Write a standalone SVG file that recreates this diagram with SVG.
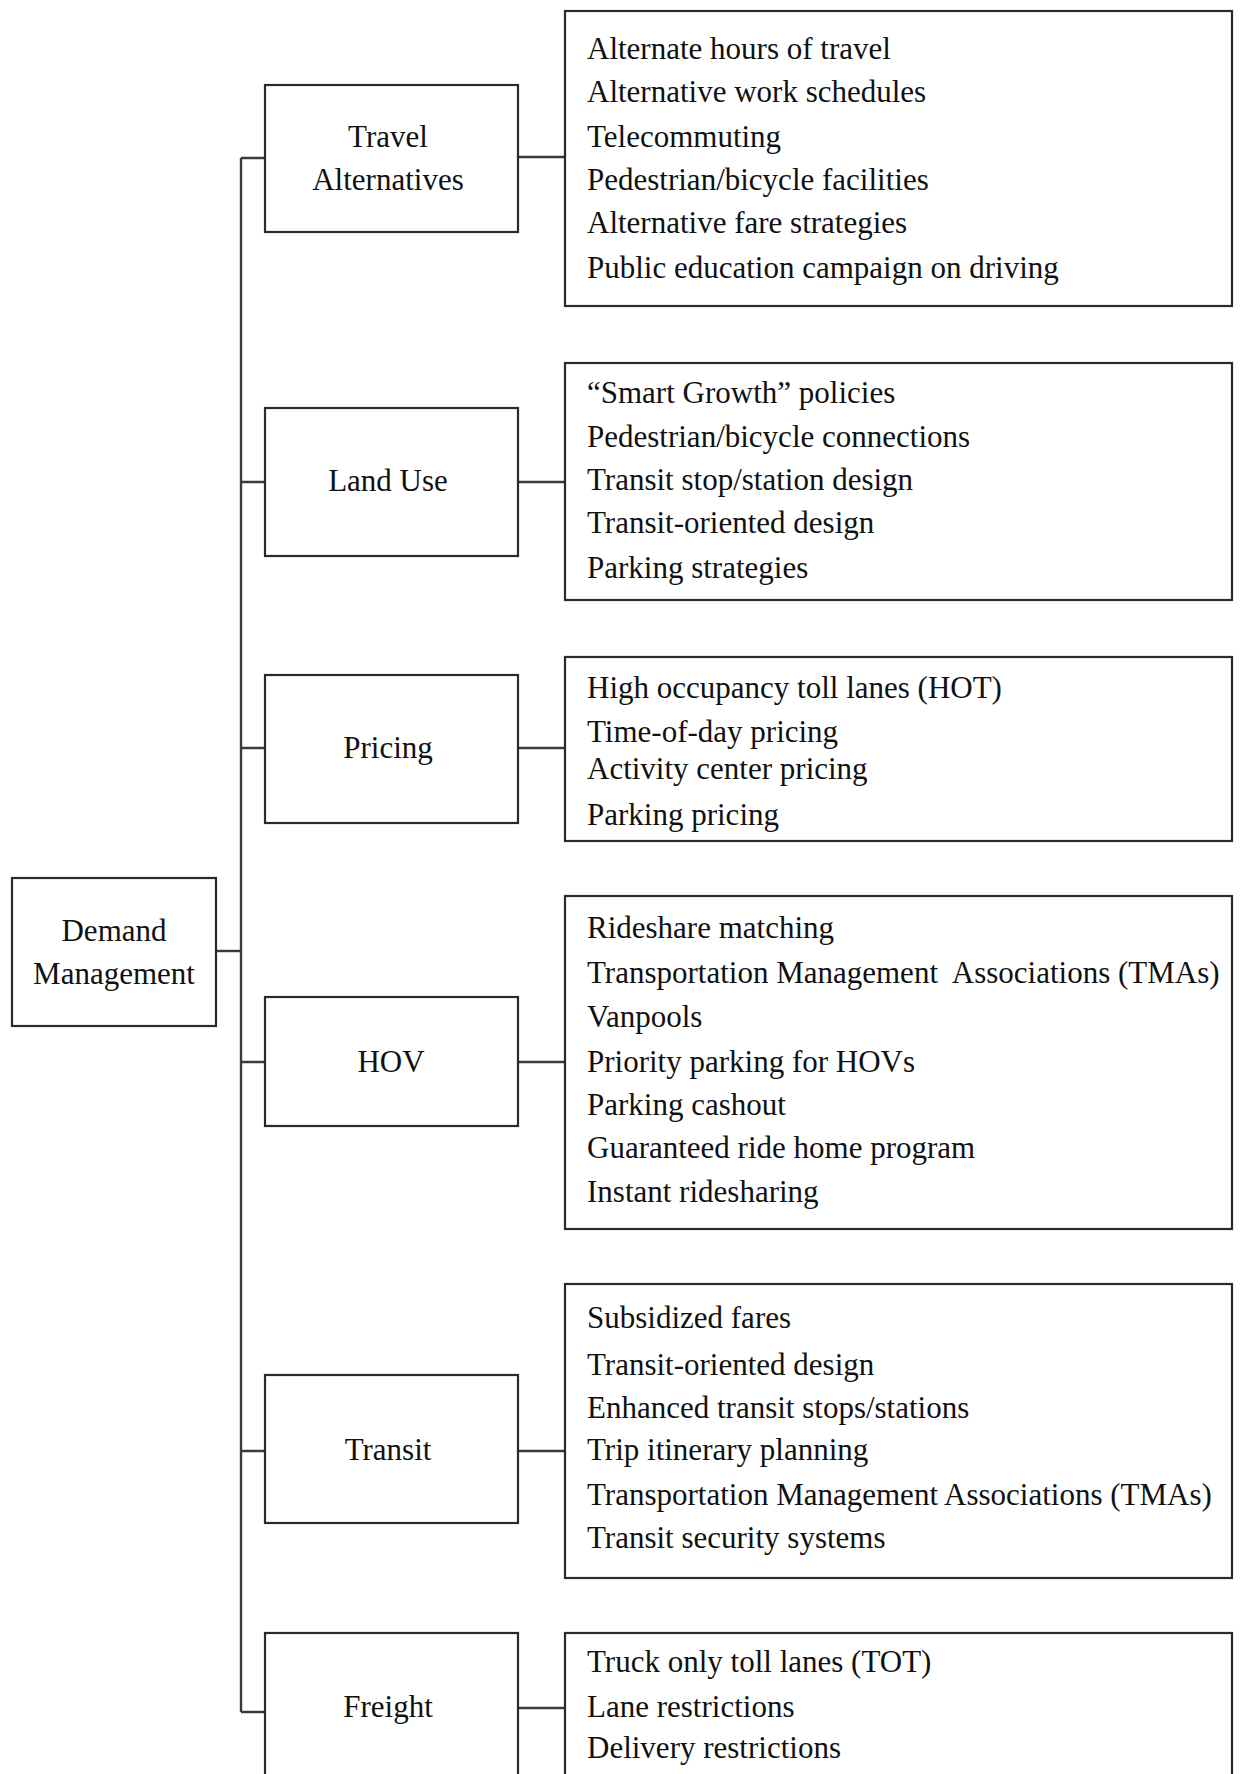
<svg xmlns="http://www.w3.org/2000/svg" width="1243" height="1774" viewBox="0 0 1243 1774">
<style>
.box{fill:#fff;stroke:#2a2a2a;stroke-width:2.2}
.conn{fill:none;stroke:#3a3a3a;stroke-width:2.4}
text{font-family:"Liberation Serif","Times New Roman",serif;font-size:31px;fill:#111}
.c{text-anchor:middle}
</style>
<rect width="1243" height="1774" fill="#fff"/>
<g id="connectors">
<path class="conn" d="M241 158V1712"/>
<path class="conn" d="M216 951H241"/>
<path class="conn" d="M241 158H265M241 482H265M241 748H265M241 1062H265M241 1451H265M241 1712H265"/>
<path class="conn" d="M518 157H565M518 482H565M518 748H565M518 1062H565M518 1451H565M518 1708H565"/>
</g>
<g id="demand-management">
<rect class="box" x="12" y="878" width="204" height="148"/>
<text class="c" x="114" y="941">Demand</text>
<text class="c" x="114" y="984">Management</text>
</g>
<g id="travel-alternatives">
<rect class="box" x="265" y="85" width="253" height="147"/>
<text class="c" x="388" y="147">Travel</text>
<text class="c" x="388" y="190">Alternatives</text>
</g>
<g id="land-use">
<rect class="box" x="265" y="408" width="253" height="148"/>
<text class="c" x="388" y="491">Land Use</text>
</g>
<g id="pricing">
<rect class="box" x="265" y="675" width="253" height="148"/>
<text class="c" x="388" y="758">Pricing</text>
</g>
<g id="hov">
<rect class="box" x="265" y="997" width="253" height="129"/>
<text class="c" x="391" y="1072">HOV</text>
</g>
<g id="transit">
<rect class="box" x="265" y="1375" width="253" height="148"/>
<text class="c" x="388" y="1460">Transit</text>
</g>
<g id="freight">
<rect class="box" x="265" y="1633" width="253" height="160"/>
<text class="c" x="388" y="1717">Freight</text>
</g>
<g id="travel-alternatives-details">
<rect class="box" x="565" y="11" width="667" height="295"/>
<text x="587" y="59">Alternate hours of travel</text>
<text x="587" y="102">Alternative work schedules</text>
<text x="587" y="147">Telecommuting</text>
<text x="587" y="190">Pedestrian/bicycle facilities</text>
<text x="587" y="233">Alternative fare strategies</text>
<text x="587" y="278">Public education campaign on driving</text>
</g>
<g id="land-use-details">
<rect class="box" x="565" y="363" width="667" height="237"/>
<text x="587" y="403">“Smart Growth” policies</text>
<text x="587" y="447">Pedestrian/bicycle connections</text>
<text x="587" y="490">Transit stop/station design</text>
<text x="587" y="533">Transit-oriented design</text>
<text x="587" y="578">Parking strategies</text>
</g>
<g id="pricing-details">
<rect class="box" x="565" y="657" width="667" height="184"/>
<text x="587" y="698">High occupancy toll lanes (HOT)</text>
<text x="587" y="742">Time-of-day pricing</text>
<text x="587" y="779">Activity center pricing</text>
<text x="587" y="825">Parking pricing</text>
</g>
<g id="hov-details">
<rect class="box" x="565" y="896" width="667" height="333"/>
<text x="587" y="938">Rideshare matching</text>
<text x="587" y="983" xml:space="preserve">Transportation Management  Associations (TMAs)</text>
<text x="587" y="1027">Vanpools</text>
<text x="587" y="1072">Priority parking for HOVs</text>
<text x="587" y="1115">Parking cashout</text>
<text x="587" y="1158">Guaranteed ride home program</text>
<text x="587" y="1202">Instant ridesharing</text>
</g>
<g id="transit-details">
<rect class="box" x="565" y="1284" width="667" height="294"/>
<text x="587" y="1328">Subsidized fares</text>
<text x="587" y="1375">Transit-oriented design</text>
<text x="587" y="1418">Enhanced transit stops/stations</text>
<text x="587" y="1460">Trip itinerary planning</text>
<text x="587" y="1505">Transportation Management Associations (TMAs)</text>
<text x="587" y="1548">Transit security systems</text>
</g>
<g id="freight-details">
<rect class="box" x="565" y="1633" width="667" height="160"/>
<text x="587" y="1672">Truck only toll lanes (TOT)</text>
<text x="587" y="1717">Lane restrictions</text>
<text x="587" y="1758">Delivery restrictions</text>
</g>
</svg>
